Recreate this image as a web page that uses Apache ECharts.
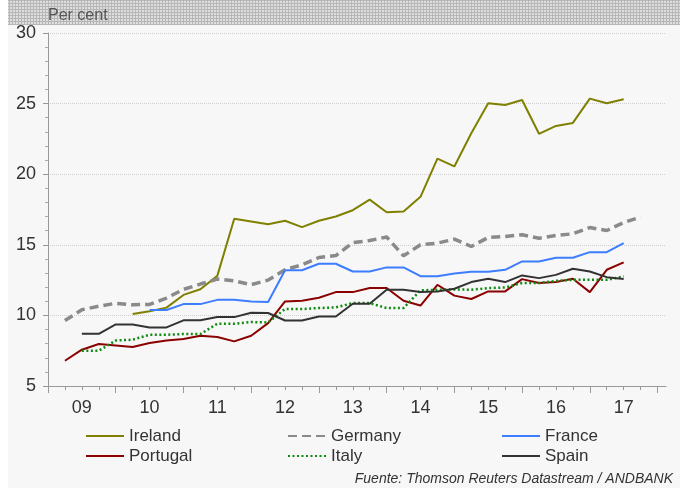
<!DOCTYPE html>
<html>
<head>
<meta charset="utf-8">
<script src="https://cdn.jsdelivr.net/npm/echarts@6/dist/echarts.min.js"></script>
<style>
  html, body { margin: 0; padding: 0; background: #fff; }
  #chart { width: 680px; height: 488px; }
</style>
</head>
<body>
<div id="chart"></div>
<script>
// quarter index 0 = start of 2009, one step per quarter
const yearLabels = ['09', '10', '11', '12', '13', '14', '15', '16', '17']
const yearLabelPos = [2, 6, 10, 14, 18, 22, 26, 30, 34]

const irelandStart = 5
const ireland = [10.1, 10.3, 10.55, 11.45, 11.85, 12.8, 16.85, 16.65, 16.45, 16.7, 16.25, 16.7, 17.0, 17.45, 18.2,
  17.3, 17.35, 18.4, 21.1, 20.55, 22.9, 25.03, 24.9, 25.26, 22.86, 23.42, 23.63, 25.35, 25.03, 25.31]

const germanyStart = 1
const germany = [9.64, 10.4, 10.65, 10.86, 10.75, 10.78, 11.23, 11.84, 12.22, 12.57, 12.45, 12.18, 12.5, 13.23, 13.58,
  14.1, 14.24, 15.15, 15.3, 15.55, 14.22, 15.0, 15.12, 15.4, 14.88, 15.52, 15.59, 15.71, 15.47, 15.66, 15.78, 16.22,
  16.01, 16.58, 16.96]

const franceStart = 6
const france = [10.38, 10.38, 10.8, 10.8, 11.1, 11.1, 10.98, 10.95, 13.2, 13.2, 13.66, 13.66, 13.11, 13.11, 13.4, 13.4,
  12.78, 12.78, 12.97, 13.09, 13.09, 13.23, 13.82, 13.82, 14.08, 14.08, 14.48, 14.48, 15.12]

const portugalStart = 1
const portugal = [6.79, 7.57, 7.97, 7.87, 7.76, 8.04, 8.23, 8.33, 8.56, 8.47, 8.16, 8.56, 9.45, 10.99, 11.04, 11.25,
  11.65, 11.65, 11.94, 11.94, 11.04, 10.7, 12.17, 11.4, 11.16, 11.7, 11.7, 12.57, 12.29, 12.36, 12.6, 11.65, 13.23, 13.75]

const italyStart = 2
const italy = [7.5, 7.5, 8.22, 8.28, 8.63, 8.63, 8.68, 8.68, 9.41, 9.41, 9.53, 9.5, 10.45, 10.45, 10.52, 10.57, 10.87,
  10.87, 10.52, 10.52, 11.77, 11.82, 11.84, 11.82, 11.93, 11.98, 12.29, 12.29, 12.45, 12.52, 12.52, 12.52, 12.76]

const spainStart = 2
const spain = [8.7, 8.7, 9.36, 9.36, 9.15, 9.15, 9.65, 9.65, 9.88, 9.88, 10.19, 10.17, 9.64, 9.64, 9.92, 9.92, 10.83,
  10.83, 11.82, 11.82, 11.65, 11.7, 11.89, 12.36, 12.6, 12.36, 12.83, 12.64, 12.87, 13.3, 13.11, 12.71, 12.57]

const yTicks = [5, 10, 15, 20, 25, 30]

function pairs(start, values) {
  return values.map((v, k) => [start + k, v])
}

const allQuarters = []
for (let i = 0; i <= 36; i++) allQuarters.push(i)
const yearStarts = allQuarters.filter((i) => i % 4 === 0)

// hatched header band
const pat = document.createElement('canvas')
pat.width = 3
pat.height = 3
const pctx = pat.getContext('2d')
pctx.fillStyle = '#dedede'
pctx.fillRect(0, 0, 3, 3)
pctx.fillStyle = '#b6b6b6'
pctx.fillRect(0, 0, 3, 1)
pctx.fillRect(0, 0, 1, 3)

const font = '"Liberation Sans", Arial, sans-serif'
const chart = echarts.init(document.getElementById('chart'))

function lineSeries(name, start, values, color, width, type) {
  return {
    name,
    type: 'line',
    data: pairs(start, values),
    symbol: 'none',
    silent: true,
    lineStyle: { color, width, type },
    itemStyle: { color },
    z: 3,
  }
}

const legendCommon = {
  orient: 'vertical',
  top: 427,
  itemWidth: 38,
  itemHeight: 14,
  itemGap: 2,
  padding: 0,
  itemStyle: { opacity: 0, borderWidth: 0 },
  textStyle: { fontFamily: font, fontSize: 17, lineHeight: 18, color: '#333' },
}

chart.setOption({
  animation: false,
  backgroundColor: '#fff',
  graphic: [
    { type: 'rect', z: -10, shape: { x: 8, y: 0, width: 672, height: 488 }, style: { fill: '#f7f7f7' } },
    { type: 'rect', z: -9, shape: { x: 8, y: 0, width: 672, height: 25 }, style: { fill: { image: pat, repeat: 'repeat' } } },
    {
      type: 'text', left: 48, top: 8,
      style: { text: 'Per cent', fontFamily: font, fontSize: 16, fill: '#555' },
    },
    {
      type: 'text', right: 7, top: 472,
      style: {
        text: 'Fuente: Thomson Reuters Datastream / ANDBANK',
        fontFamily: font, fontSize: 14, fontStyle: 'italic', fill: '#333',
      },
    },
  ],
  legend: [
    { ...legendCommon, left: 85, data: ['Ireland', 'Portugal'] },
    { ...legendCommon, left: 287, data: ['Germany', 'Italy'] },
    { ...legendCommon, left: 501, data: ['France', 'Spain'] },
  ],
  grid: { left: 48, top: 33, right: 14, bottom: 102 },
  xAxis: [
    {
      type: 'value',
      min: 0,
      max: 36.5,
      axisLine: { lineStyle: { color: '#999', width: 1 } },
      axisTick: { show: true, length: 4, customValues: allQuarters, lineStyle: { color: '#999' } },
      axisLabel: {
        customValues: yearLabelPos,
        formatter: (v) => yearLabels[yearLabelPos.indexOf(v)] || '',
        fontFamily: font,
        fontSize: 18,
        color: '#333',
        margin: 13,
      },
      splitLine: { show: false },
    },
    {
      type: 'value',
      position: 'bottom',
      min: 0,
      max: 36.5,
      axisLine: { show: false },
      axisTick: { show: true, length: 7, customValues: yearStarts, lineStyle: { color: '#999' } },
      axisLabel: { show: false },
      splitLine: { show: false },
    },
  ],
  yAxis: {
    type: 'value',
    min: 5,
    max: 30,
    interval: 5,
    axisLine: { show: true, lineStyle: { color: '#999' } },
    axisTick: { show: true, length: 5, lineStyle: { color: '#999' } },
    minorTick: { show: true, splitNumber: 5, length: 3, lineStyle: { color: '#aaa' } },
    axisLabel: {
      formatter: (v) => (yTicks.includes(v) ? String(v) : ''),
      fontFamily: font,
      fontSize: 18,
      color: '#333',
      margin: 12,
    },
    splitLine: { show: true, lineStyle: { color: '#cfcfcf', type: 'dotted', width: 1 } },
  },
  series: [
    lineSeries('Ireland', irelandStart, ireland, '#808000', 2, 'solid'),
    lineSeries('Portugal', portugalStart, portugal, '#8b0000', 2, 'solid'),
    lineSeries('Germany', germanyStart, germany, '#8a8a8a', 3.5, [9, 5]),
    lineSeries('Italy', italyStart, italy, '#108a10', 2.5, [2, 2.5]),
    lineSeries('France', franceStart, france, '#3d7dff', 2, 'solid'),
    lineSeries('Spain', spainStart, spain, '#333333', 2, 'solid'),
  ],
})
</script>
</body>
</html>
